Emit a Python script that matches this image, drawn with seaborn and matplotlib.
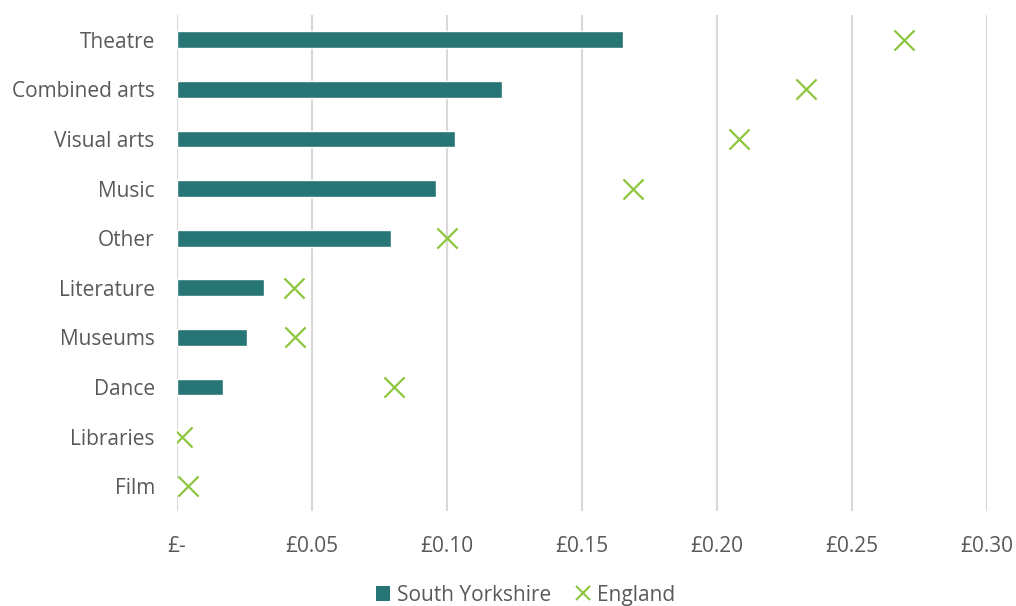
import matplotlib
matplotlib.use("Agg")
import matplotlib.pyplot as plt
import numpy as np
import pandas as pd
import seaborn as sns
from matplotlib.ticker import FuncFormatter
from matplotlib.lines import Line2D
from matplotlib.patches import Patch

categories = ["Theatre", "Combined arts", "Visual arts", "Music", "Other",
              "Literature", "Museums", "Dance", "Libraries", "Film"]
south_yorkshire = [0.1652, 0.1204, 0.1030, 0.0959, 0.0793,
                   0.0322, 0.0259, 0.0170, 0.0, 0.0]
england = [0.2693, 0.2330, 0.2080, 0.1690, 0.1000,
           0.0433, 0.0437, 0.0804, 0.0019, 0.0040]
x_ticks = [0, 0.05, 0.10, 0.15, 0.20, 0.25, 0.30]

df = pd.DataFrame({"category": categories,
                   "South Yorkshire": south_yorkshire,
                   "England": england})

sns.set_style("white")
plt.rcParams['font.family'] = ['Open Sans', 'DejaVu Sans']
text_color = "#595959"
bar_color = "#277574"
cross_color = "#8DC63F"

fig = plt.figure(figsize=(10.16, 6.06), dpi=100)
ax = fig.add_axes([0.1742, 0.1568, 0.7973, 0.8184])

sns.barplot(data=df, y="category", x="South Yorkshire", color=bar_color,
            width=0.34, saturation=1, ax=ax, zorder=3)
sns.scatterplot(data=df, y="category", x="England", marker="x", s=210,
                color=cross_color, linewidth=1.6, ax=ax, zorder=4, legend=False)

ax.set_xlim(0, 0.30)
ax.set_ylim(len(categories) - 0.5, -0.5)
ax.set_xticks(x_ticks)
ax.xaxis.set_major_formatter(FuncFormatter(lambda v, p: "£-" if v == 0 else f"£{v:.2f}"))
ax.grid(axis="x", color="#d9d9d9", linewidth=1.5, zorder=0)
ax.grid(axis="y", visible=False)
for s in ax.spines.values():
    s.set_visible(False)
ax.tick_params(axis="both", length=0, labelsize=15, labelcolor=text_color)
ax.tick_params(axis="x", pad=18)
ax.tick_params(axis="y", pad=16)
ax.set_xlabel("")
ax.set_ylabel("")

handles = [Patch(facecolor=bar_color, edgecolor="none", label="South Yorkshire"),
           Line2D([], [], linestyle="none", marker="x", markersize=10,
                  markeredgewidth=1.5, color=cross_color, label="England")]
fig.legend(handles=handles, loc="center", bbox_to_anchor=(0.517, 0.018), ncol=2,
           frameon=False, fontsize=15, labelcolor=text_color, handlelength=0.7,
           handleheight=0.7, handletextpad=0.3, columnspacing=1.2,
           borderpad=0, borderaxespad=0)

fig.savefig("out.png", dpi=100)
